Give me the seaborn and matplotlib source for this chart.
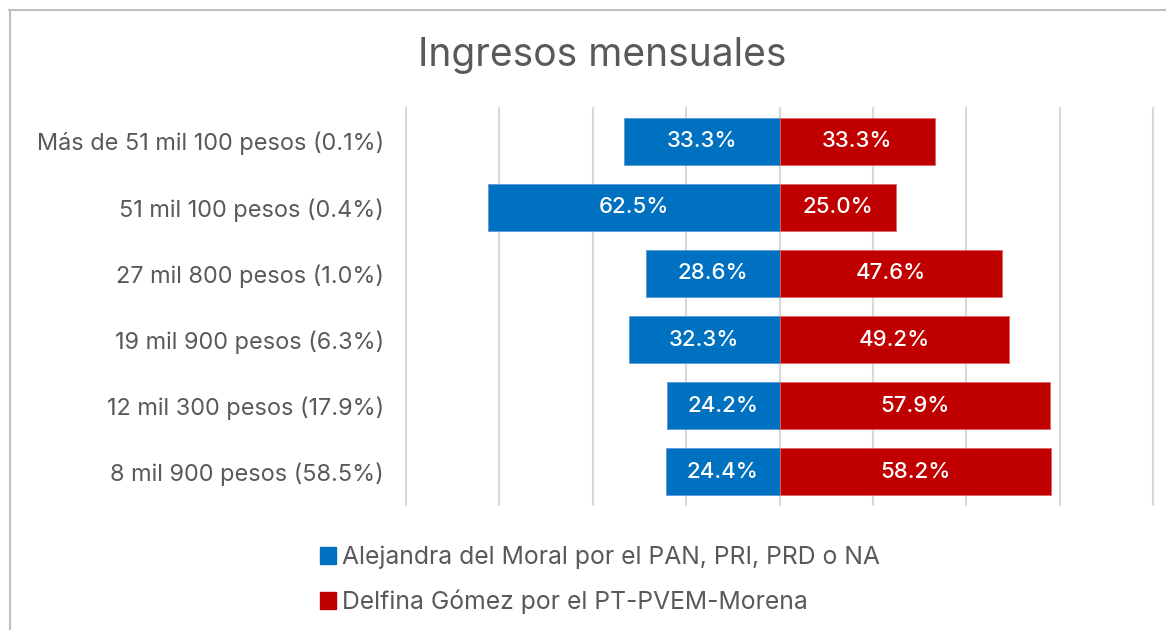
import matplotlib
matplotlib.use("Agg")
import matplotlib.pyplot as plt
import seaborn as sns
import pandas as pd
from matplotlib.lines import Line2D
from matplotlib.patches import Patch

categories = [
    "Más de 51 mil 100 pesos (0.1%)",
    "51 mil 100 pesos (0.4%)",
    "27 mil 800 pesos (1.0%)",
    "19 mil 900 pesos (6.3%)",
    "12 mil 300 pesos (17.9%)",
    "8 mil 900 pesos (58.5%)",
]
alejandra = [33.3, 62.5, 28.6, 32.3, 24.2, 24.4]
delfina = [33.3, 25.0, 47.6, 49.2, 57.9, 58.2]
series_names = ["Alejandra del Moral por el PAN, PRI, PRD o NA",
                "Delfina Gómez por el PT-PVEM-Morena"]
title = "Ingresos mensuales"

BLUE = "#0070C0"
RED = "#C00000"
GRAY = "#595959"

sns.set_theme(style="white")
FONT = "Inter"
plt.rcParams["font.family"] = [FONT, "DejaVu Sans"]

fig = plt.figure(figsize=(11.66, 6.3), dpi=100)
ax = fig.add_axes([406/1166, 1 - 505/630, (1153 - 406)/1166, (505 - 108)/630])

df = pd.DataFrame({"cat": categories,
                   "a": [-v for v in alejandra],
                   "d": delfina})

sns.barplot(data=df, x="a", y="cat", color=BLUE, saturation=1, width=0.71,
            orient="h", ax=ax, edgecolor="#5B9BD5", linewidth=0.6)
sns.barplot(data=df, x="d", y="cat", color=RED, saturation=1, width=0.71,
            orient="h", ax=ax, edgecolor="#E06666", linewidth=0.6)

ax.set_xlim(-80, 80)
ax.set_ylim(5.5, -0.5)
ax.set_xticks([-80, -60, -40, -20, 0, 20, 40, 60, 80])
ax.xaxis.grid(True, color="#D9D9D9", linewidth=1.5)
for gl in ax.get_xgridlines():
    gl.set_clip_on(False)
ax.set_axisbelow(True)
ax.tick_params(axis="x", length=0, labelbottom=False)
ax.tick_params(axis="y", length=0, pad=16, labelsize=16.9, labelcolor=GRAY)
ax.set_xlabel("")
ax.set_ylabel("")
for s in ax.spines.values():
    s.set_visible(False)

ax.axvline(0, color="#D9D9D9", linewidth=1.5, zorder=0)

for i, (a, d) in enumerate(zip(alejandra, delfina)):
    ax.text(-a / 2, i, f"{a:.1f}%", ha="center", va="center", color="white",
            fontsize=16, fontweight="medium")
    ax.text(d / 2, i, f"{d:.1f}%", ha="center", va="center", color="white",
            fontsize=16, fontweight="medium")

fig.text(602/1166, 1 - 55/630, title, ha="center", va="center",
         fontsize=28, color=GRAY)

handles = [Patch(facecolor=BLUE, edgecolor=BLUE),
           Patch(facecolor=RED, edgecolor=RED)]
fig.legend(handles, series_names, loc="center left",
           bbox_to_anchor=(320/1166, 1 - 580/630), ncol=1, frameon=False,
           fontsize=17.8, labelcolor=GRAY, handlelength=0.65, handleheight=0.65,
           handletextpad=0.25, labelspacing=0.82, borderaxespad=0,
           borderpad=0)

fig.add_artist(Line2D([9/1166, 1], [1 - 9.5/630, 1 - 9.5/630],
                      transform=fig.transFigure, color="#BFBFBF", linewidth=1.5))
fig.add_artist(Line2D([9.5/1166, 9.5/1166], [0, 1 - 9.5/630],
                      transform=fig.transFigure, color="#BFBFBF", linewidth=1.5))

fig.savefig("out.png", dpi=100)
